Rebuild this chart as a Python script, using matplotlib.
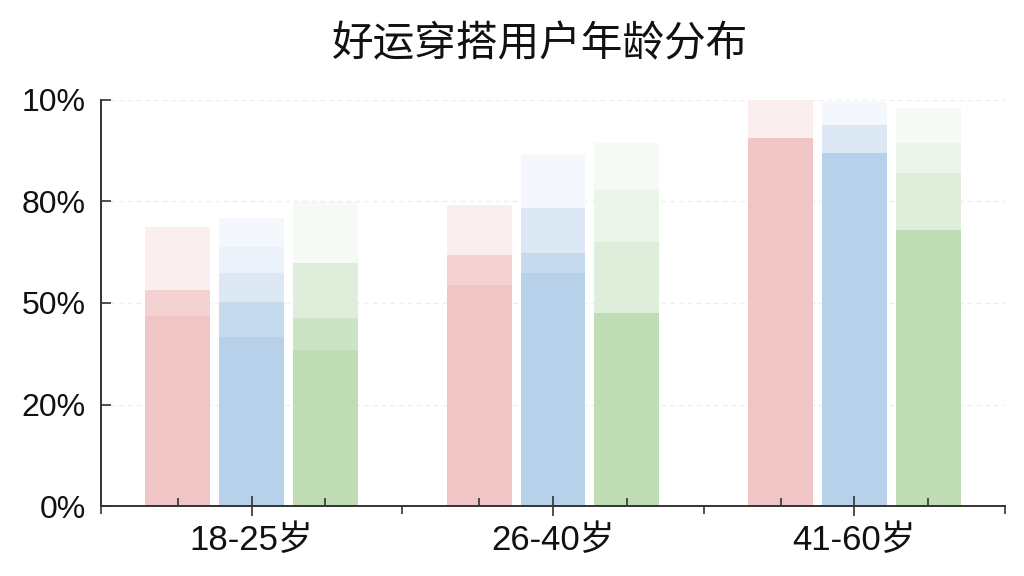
import matplotlib
matplotlib.use('Agg')
import matplotlib.pyplot as plt
import numpy as np
from matplotlib.colors import to_rgb

# ---- data ----
groups = ['18-25岁', '26-40岁', '41-60岁']
ytick_vals = [0, 25, 50, 75, 100]
ytick_labels = ['0%', '20%', '50%', '80%', '10%']
level_alpha = [1.0, 0.8, 0.5, 0.3, 0.15]
series_colors = ['#F0C5C5', '#B8D1EA', '#BEDDB4']

# cumulative top of each fading level, per group
red_tops = [[46.8, 53.2, 53.2, 68.7, 68.7],
            [54.4, 61.8, 61.8, 74.1, 74.1],
            [90.6, 90.6, 90.6, 100.0, 100.0]]
blue_tops = [[41.6, 50.2, 57.4, 63.8, 70.9],
             [57.4, 62.3, 73.4, 73.4, 86.5],
             [86.9, 86.9, 93.8, 93.8, 99.5]]
green_tops = [[38.4, 46.3, 59.9, 59.9, 74.9],
              [47.5, 47.5, 65.0, 77.8, 89.4],
              [68.0, 68.0, 82.0, 89.4, 98.0]]
series_tops = [red_tops, blue_tops, green_tops]

# ---- figure ----
fig = plt.figure(figsize=(10.24, 5.76), dpi=100)
ax = fig.add_axes([101/1024, 1-506/576, (1005-101)/1024, (506-100)/576])

offsets = [-0.245, 0.0, 0.245]
width = 0.215
x = np.arange(len(groups))

def blend(c, a):
    r = np.array(to_rgb(c))
    return tuple(1 - a + a * r)

for yv in ytick_vals[1:]:
    ax.axhline(yv, color='#eeeeee', linestyle=(0, (4, 3)), linewidth=0.9, zorder=0.5)

for s, tops in enumerate(series_tops):
    for g in range(len(groups)):
        prev = 0.0
        for k, top in enumerate(tops[g]):
            h = top - prev
            if h > 0:
                ax.bar(x[g] + offsets[s], h, bottom=prev, width=width,
                       color=blend(series_colors[s], level_alpha[k]),
                       linewidth=0, zorder=2, clip_on=False)
            prev = max(prev, top)

ax.set_xlim(-0.5, len(groups) - 0.5)
ax.set_ylim(0, 100)
ax.set_axisbelow(False)

for sp in ['top', 'right']:
    ax.spines[sp].set_visible(False)
for sp in ['left', 'bottom']:
    ax.spines[sp].set_color('#333333')
    ax.spines[sp].set_linewidth(1.4)

lab_font = ['Liberation Sans', 'Noto Sans CJK SC', 'DejaVu Sans']

ax.set_yticks(ytick_vals)
ax.set_yticklabels(ytick_labels, family=lab_font, fontsize=23, color='#111111')
ax.tick_params(axis='y', direction='in', length=7, width=1.2, color='#333333', pad=11)

ax.set_xticks(x)
ax.set_xticklabels(groups, family=lab_font, fontsize=25, color='#111111')
ax.tick_params(axis='x', which='major', direction='inout', length=14, width=1.2,
               color='#333333', pad=6)
ax.set_xticks([xi + o for xi in x for o in (offsets[0], offsets[2])], minor=True)
ax.tick_params(axis='x', which='minor', direction='in', length=6, width=1.2,
               color='#333333')

sec = ax.secondary_xaxis('bottom')
sec.set_xticks(np.arange(len(groups) + 1) - 0.5)
sec.set_xticklabels([])
sec.tick_params(direction='out', length=6, width=1.2, color='#333333')
sec.spines['bottom'].set_visible(False)

fig.text(540/1024, 1-45/576, '好运穿搭用户年龄分布', ha='center', va='center',
         fontsize=30, family=['Noto Sans CJK SC', 'DejaVu Sans'], color='#111111')

fig.savefig('out.png', dpi=100)
